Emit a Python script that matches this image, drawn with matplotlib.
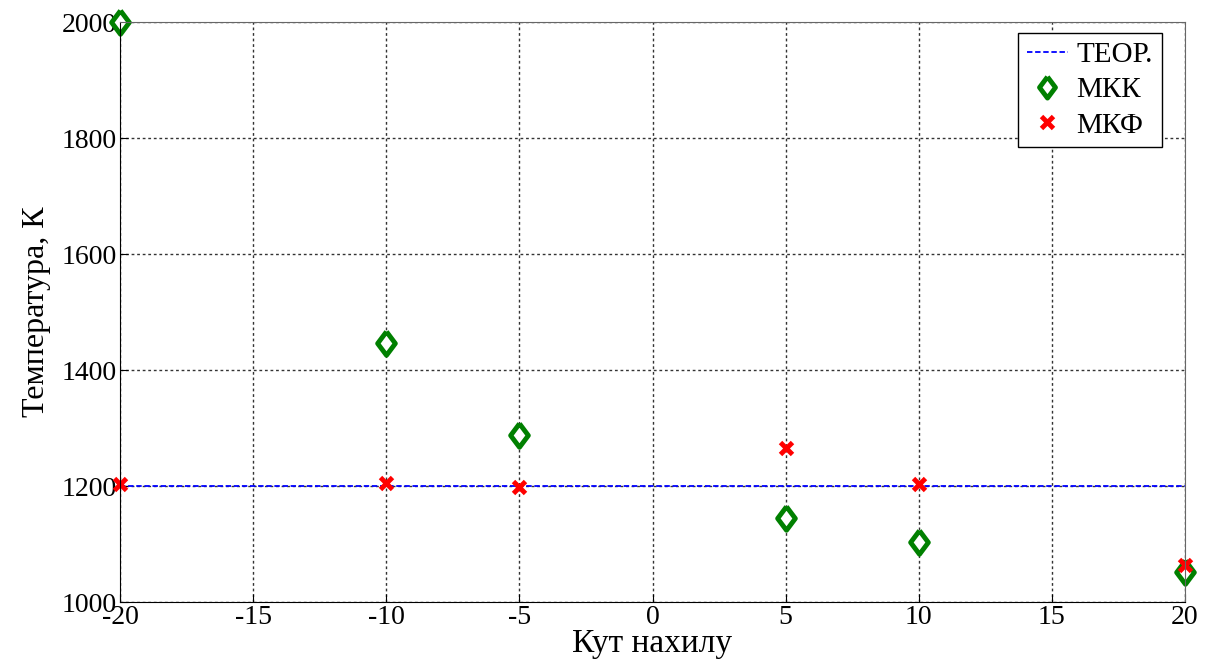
import matplotlib
matplotlib.use('AGG')
import matplotlib.pyplot as plt
import numpy as np

# data
angles = [-20, -10, -5, 5, 10, 20]
t_mkk = [2000, 1447, 1288, 1144, 1104, 1051]
t_mkf = [1203, 1206, 1199, 1266, 1203, 1063]
theor_x = [-20, 20]
theor_t = [1200, 1200]

plt.rcParams['font.family'] = ['Liberation Serif', 'DejaVu Serif']
plt.rcParams['axes.unicode_minus'] = False

# diamond slightly taller than wide, like the original
diamond = [(0, 1), (0.75, 0), (0, -1), (-0.75, 0), (0, 1)]

fig = plt.figure(figsize=(12.12, 6.65), dpi=100)
ax = fig.add_axes([120/1212, 1 - 602/665, (1185-120)/1212, (602-22)/665])

ax.plot(theor_x, theor_t, '--', color='blue', lw=1.3, dashes=(3, 1.5), label='ТЕОР.')
ax.plot(angles, t_mkk, marker=diamond, mfc='white', mec='green', mew=3.5, ms=17, ls='none', label='МКК', clip_on=False)
ax.plot(angles, t_mkf, 'x', color='red', mew=3.5, ms=9, ls='none', label='МКФ', clip_on=False)

ax.set_xlim(-20, 20)
ax.set_ylim(1000, 2000)
ax.set_xticks(np.arange(-20, 21, 5))
ax.set_yticks(np.arange(1000, 2001, 200))
ax.grid(True, ls=(0, (2, 2)), color='#333333', lw=1)
ax.tick_params(direction='in', labelsize=20, length=6, pad=2)
for s in ax.spines.values():
    s.set_color('#666666')
ax.spines['bottom'].set_color('black')
ax.spines['left'].set_color('black')

ax.set_xlabel('Кут нахилу', fontsize=24, labelpad=-1)
ax.set_ylabel('Температура, К', fontsize=23, labelpad=8)

leg = ax.legend(loc='upper right', fontsize=21, fancybox=False, framealpha=1,
                edgecolor='black', handlelength=1.4, borderaxespad=0,
                bbox_to_anchor=(0.978, 0.981), labelspacing=0.3, handletextpad=0.3,
                borderpad=0.3, markerscale=0.9)
leg.get_frame().set_linewidth(1)

plt.savefig('out.png')
